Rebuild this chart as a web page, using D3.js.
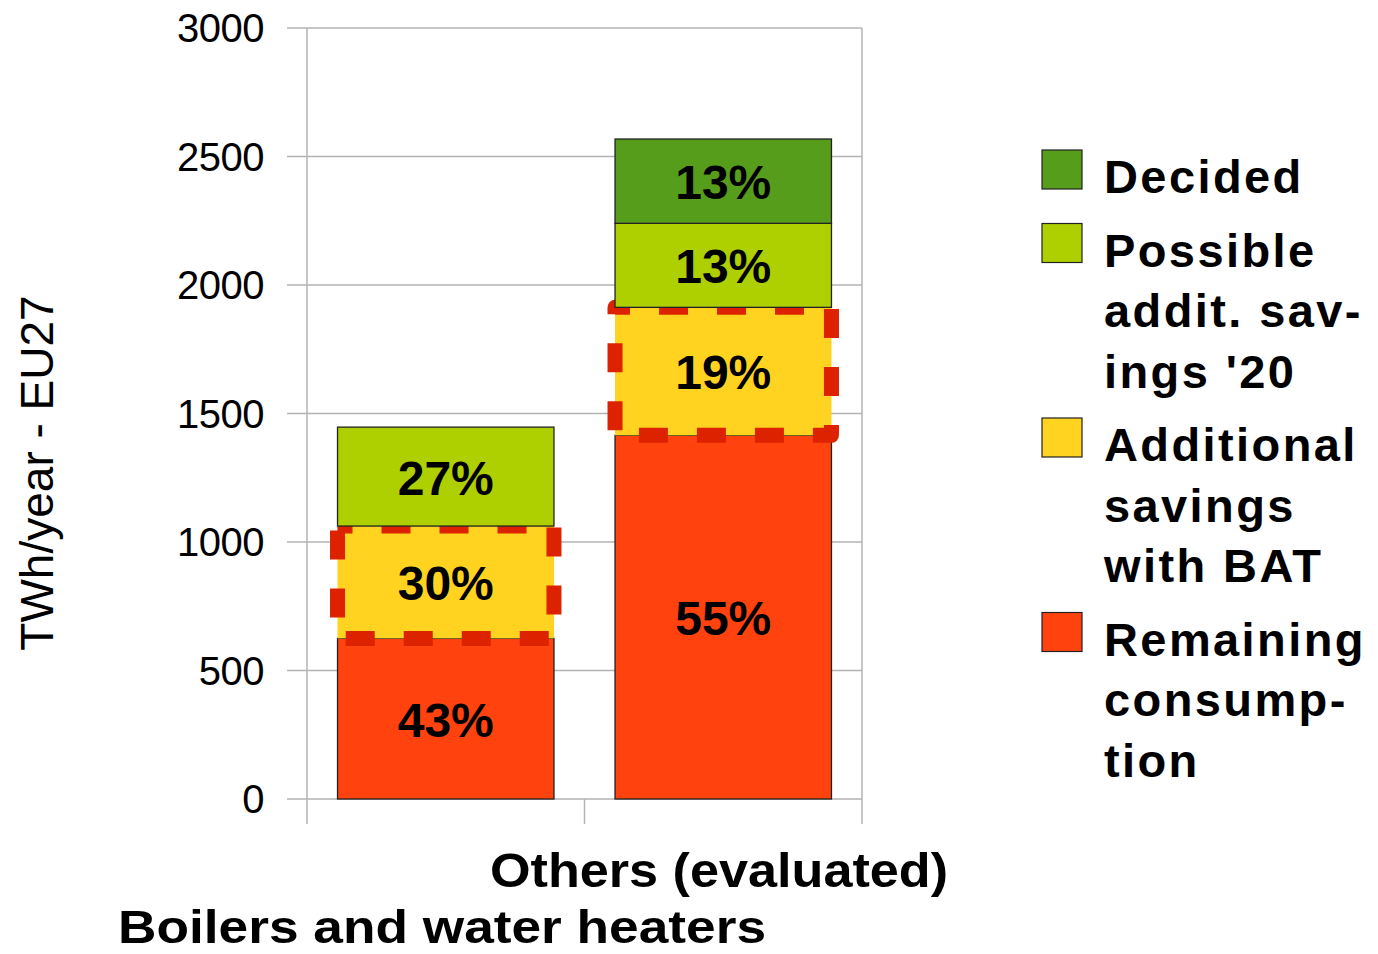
<!DOCTYPE html>
<html>
<head>
<meta charset="utf-8">
<script src="https://cdn.jsdelivr.net/npm/d3@7"></script>
<style>
  body { margin: 0; background: #fff; }
  text { font-family: "Liberation Sans", Arial, sans-serif; }
</style>
</head>
<body>
<svg width="1378" height="954"></svg>
<script>
// chart data (TWh/year)
const categories = ["Boilers and water heaters", "Others (evaluated)"];
const remaining = [625, 1415];
const additional = [437, 498];
const possible = [385, 327];
const decided = [0, 328];
const remainingPct = ["43%", "55%"];
const additionalPct = ["30%", "19%"];
const possiblePct = ["27%", "13%"];
const decidedPct = ["", "13%"];
const yTicks = [0, 500, 1000, 1500, 2000, 2500, 3000];

const seriesNames = ["Decided", "Possible addit. savings '20", "Additional savings with BAT", "Remaining consumption"];
const legendLines = [["Decided"], ["Possible", "addit. sav-", "ings '20"], ["Additional", "savings", "with BAT"], ["Remaining", "consump-", "tion"]];
const colors = { remaining: "#ff420e", additional: "#ffd320", possible: "#aecf00", decided: "#579d1c" };

const svg = d3.select("svg");

const x = d3.scaleBand().domain(categories).range([307, 862]).padding(0);
const y = d3.scaleLinear().domain([0, 3000]).range([799, 28]);
const barW = x.bandwidth() * 0.78;
const barX = c => x(c) + (x.bandwidth() - barW) / 2;

// grid
const grid = svg.append("g").attr("stroke", "#b3b3b3").attr("stroke-width", 1.5);
grid.selectAll("line.h").data(yTicks).join("line")
    .attr("x1", 287).attr("x2", 862)
    .attr("y1", d => y(d)).attr("y2", d => y(d));
grid.append("line").attr("x1", 307).attr("x2", 307).attr("y1", y(3000)).attr("y2", 824);
grid.append("line").attr("x1", 862).attr("x2", 862).attr("y1", y(3000)).attr("y2", 824);
grid.append("line").attr("x1", x(categories[1])).attr("x2", x(categories[1])).attr("y1", y(0)).attr("y2", 824);

// y axis labels
svg.append("g").selectAll("text").data(yTicks).join("text")
    .attr("x", 264).attr("y", d => y(d) + 14)
    .attr("text-anchor", "end")
    .attr("font-size", 40).attr("letter-spacing", -0.5)
    .text(d => d);

svg.append("text")
    .attr("transform", "translate(53,473) rotate(-90)")
    .attr("text-anchor", "middle")
    .attr("font-size", 46)
    .text("TWh/year - EU27");

// stack
const rows = categories.map((c, i) => {
    const r0 = 0, r1 = remaining[i];
    const a1 = r1 + additional[i];
    const p1 = a1 + possible[i];
    const d1 = p1 + decided[i];
    return { c, i, r0, r1, a1, p1, d1 };
});

function seg(lo, hi, fill, stroke) {
    svg.append("g").selectAll("rect").data(rows.filter(r => r[hi] > r[lo])).join("rect")
        .attr("x", r => barX(r.c))
        .attr("width", barW)
        .attr("y", r => y(r[hi]))
        .attr("height", r => y(r[lo]) - y(r[hi]))
        .attr("fill", fill)
        .attr("stroke", stroke ? "#222" : "none")
        .attr("stroke-width", 1.3);
}

seg("r0", "r1", colors.remaining, true);
seg("r1", "a1", colors.additional, false);

// dashed frame round the BAT savings
svg.append("g").selectAll("rect").data(rows).join("rect")
    .attr("x", r => barX(r.c))
    .attr("width", barW)
    .attr("y", r => y(r.a1))
    .attr("height", r => y(r.r1) - y(r.a1))
    .attr("fill", "none")
    .attr("stroke", "#dd2200")
    .attr("stroke-width", 15)
    .attr("stroke-linejoin", "round")
    .attr("stroke-dasharray", "29,29")
    .attr("stroke-dashoffset", 14);

seg("a1", "p1", colors.possible, true);
seg("p1", "d1", colors.decided, true);

// percentage labels
function labels(lo, hi, txt) {
    svg.append("g").selectAll("text").data(rows.filter(r => txt[r.i] !== "")).join("text")
        .attr("x", r => barX(r.c) + barW / 2)
        .attr("y", r => (y(r[lo]) + y(r[hi])) / 2 + 18)
        .attr("text-anchor", "middle")
        .attr("font-size", 48).attr("font-weight", "bold")
        .text(r => txt[r.i]);
}
labels("r0", "r1", remainingPct);
labels("r1", "a1", additionalPct);
labels("a1", "p1", possiblePct);
labels("p1", "d1", decidedPct);

// category labels, staggered
const catPos = [{ cx: 442, by: 943, len: 648 }, { cx: 719, by: 887, len: 458 }];
svg.append("g").selectAll("text").data(categories).join("text")
    .attr("x", (d, i) => catPos[i].cx)
    .attr("y", (d, i) => catPos[i].by)
    .attr("text-anchor", "middle")
    .attr("font-size", (d, i) => i === 0 ? 46 : 48).attr("font-weight", "bold")
    .attr("textLength", (d, i) => catPos[i].len)
    .attr("lengthAdjust", "spacingAndGlyphs")
    .text(d => d);

// legend
const legendColors = [colors.decided, colors.possible, colors.additional, colors.remaining];
const lineH = 60.5;
let line = 0;
const leg = svg.append("g").attr("transform", "translate(1042,0)");
seriesNames.forEach((name, k) => {
    const base = 193 + line * lineH + k * 13;
    leg.append("rect")
        .attr("x", 0).attr("y", base - 43)
        .attr("width", 40).attr("height", 39)
        .attr("fill", legendColors[k])
        .attr("stroke", "#222").attr("stroke-width", 1.2);
    legendLines[k].forEach((t, j) => {
        leg.append("text")
            .attr("x", 62).attr("y", base + j * lineH)
            .attr("font-size", 47).attr("font-weight", "bold")
            .attr("letter-spacing", 2.4)
            .text(t);
    });
    line += legendLines[k].length;
});
</script>
</body>
</html>
